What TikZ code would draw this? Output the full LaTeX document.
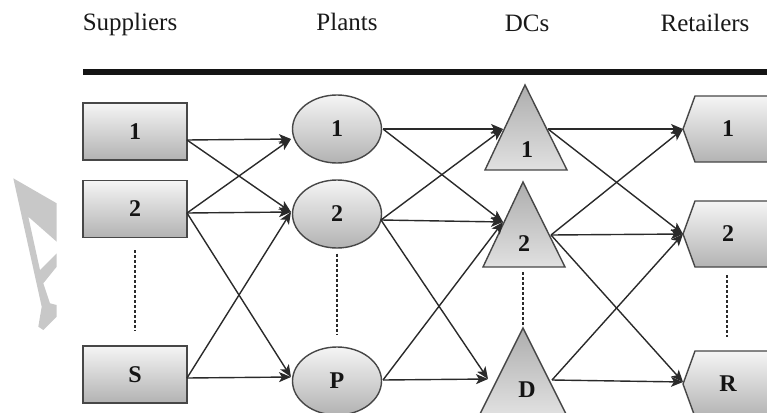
\documentclass[tikz,border=0pt]{standalone}
\usepackage{fontspec}
\setmainfont{Liberation Serif}
\usetikzlibrary{arrows.meta,shapes.geometric}
\definecolor{edge}{HTML}{2A2A2A}
\definecolor{wmark}{HTML}{C8C8C8}
\begin{document}
\begin{tikzpicture}[x=1pt,y=-1pt,
  conn/.style={draw=edge, line width=1.4pt, -{Stealth[length=12pt,width=10pt,inset=3pt]}},
  dotline/.style={draw=edge, line width=1.4pt, dash pattern=on 3pt off 2pt},
  title/.style={font=\fontsize{25}{30}\selectfont, text=black!90, anchor=base},
  lab/.style={font=\fontsize{24}{28}\selectfont\bfseries, text=black!92},
  shp/.style={draw=black!72, line width=1.4pt, top color=black!4, bottom color=black!30},
  tri/.style={draw=black!72, line width=1.4pt, top color=black!32, bottom color=black!12},
  box/.style={shp, lab, rectangle, minimum width=104pt, minimum height=57pt, inner sep=0pt},
  plant/.style={shp, lab, ellipse, minimum width=89pt, minimum height=68pt, inner sep=0pt},
]
\useasboundingbox (0,0) rectangle (767,412);
\clip (0,0) rectangle (767,412);

% watermark
\fill[wmark] (13.3,178.3) -- (56.7,203.3) -- (56.7,241.7) -- (28.3,216.7) -- (40,270)
  -- (56.7,253.3) -- (56.7,266.7) -- (43.3,283.3) -- (50,303.3) -- (56.7,305)
  -- (56.7,316.7) -- (43.3,330) -- (38.3,326.7) -- (41.7,306.7) -- cycle;

% titles
\node[title] (tS) at (130,31) {Suppliers};
\node[title] (tP) at (347,31) {Plants};
\node[title] (tD) at (527,32) {DCs};
\node[title] (tR) at (705,32) {Retailers};
\coordinate (ruleL) at (83,72);
\coordinate (ruleR) at (767,72);
\draw[line width=6pt, black!92] (ruleL) -- (ruleR);

% suppliers
\node[box] (s1) at (135,131.5) {1};
\node[box] (s2) at (135,209) {2};
\node[box] (sS) at (135,374.5) {S};

% plants
\node[plant] (p1) at (337,129) {1};
\node[plant] (p2) at (337,214) {2};
\node[plant] (pP) at (337,381) {P};

% DCs
\path[tri] (525,85) -- (567,170) -- (485,170) -- cycle;
\path[tri] (523,182) -- (565,267) -- (483,267) -- cycle;
\path[tri] (523,328) -- (566,414) -- (480,414) -- cycle;
\node[lab] (d1) at (527,150) {1};
\node[lab] (d2) at (524,244) {2};
\node[lab] (dD) at (527,390) {D};

% retailers
\foreach \cy/\nm/\t in {129/r1/1, 234/r2/2, 384/rR/R}{
  \path[shp] (683,\cy) -- (695,\cy-33) -- (800,\cy-33) -- (812,\cy) -- (800,\cy+33) -- (695,\cy+33) -- cycle;
  \node[lab] (\nm) at (728,\cy) {\t};
}

% connection points
\coordinate (s1o) at (187,140);
\coordinate (s2o) at (187,213);
\coordinate (sSo) at (187,378);
\coordinate (p1i) at (291,139);
\coordinate (p2i) at (291,212);
\coordinate (pPi) at (291,377);
\coordinate (p1o) at (383,129);
\coordinate (p2o) at (381,220);
\coordinate (pPo) at (383,380);
\coordinate (d1i) at (503,129);
\coordinate (d2i) at (503,222);
\coordinate (dDi) at (488,379);
\coordinate (d1o) at (548,129);
\coordinate (d2o) at (551,235);
\coordinate (dDo) at (552,380);
\coordinate (r1i) at (683,129);
\coordinate (r2i) at (683,234);
\coordinate (rRi) at (683,382);

% arrows
\foreach \a/\b in {s1o/p1i, s1o/p2i, s2o/p1i, s2o/p2i, s2o/pPi, sSo/p2i, sSo/pPi,
  p1o/d1i, p1o/d2i, p2o/d1i, p2o/d2i, p2o/dDi, pPo/d2i, pPo/dDi,
  d1o/r1i, d1o/r2i, d2o/r1i, d2o/r2i, d2o/rRi, dDo/r2i, dDo/rRi}
  \draw[conn] (\a) -- (\b);

% dotted continuation lines
\draw[dotline, shorten <=12pt, shorten >=14pt] (s2) -- (sS);
\draw[dotline, shorten <=5pt, shorten >=11pt] (p2) -- (pP);
\coordinate (d2b) at (523,272);
\coordinate (dDt) at (523,325);
\draw[dotline] (d2b) -- (dDt);
\coordinate (r2b) at (727,275);
\coordinate (rRt) at (727,337);
\draw[dotline] (r2b) -- (rRt);
\end{tikzpicture}
\end{document}
